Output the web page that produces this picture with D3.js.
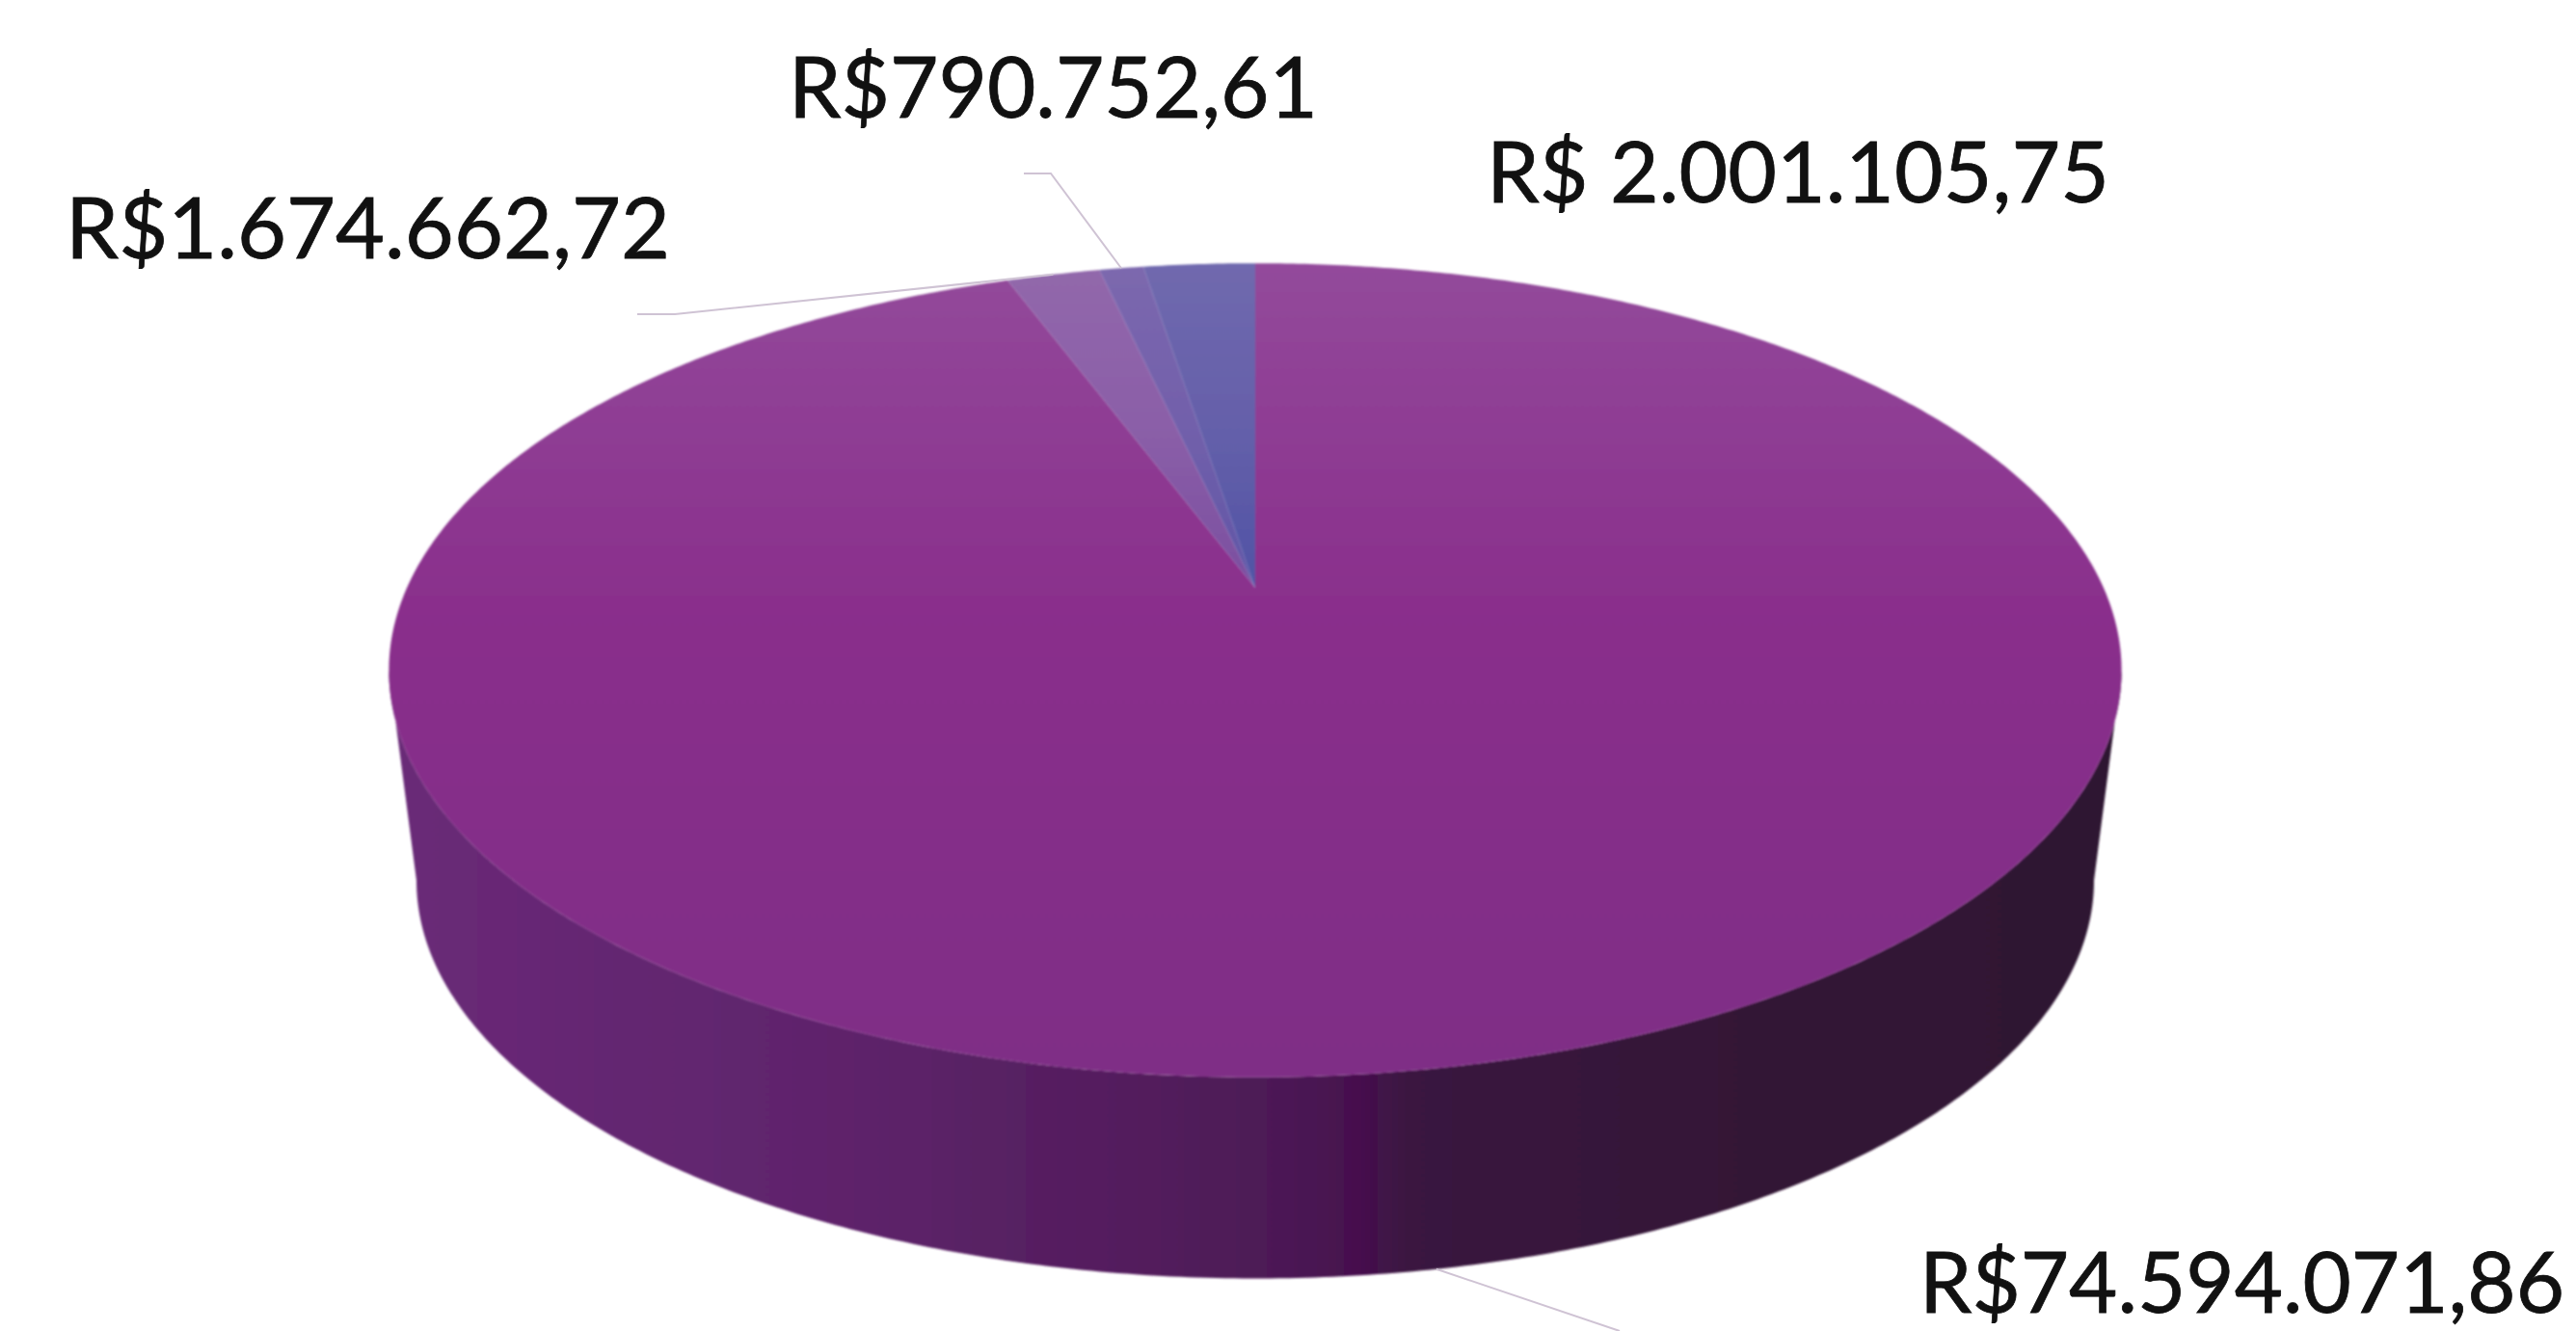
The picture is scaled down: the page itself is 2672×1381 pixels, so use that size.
<!DOCTYPE html>
<html>
<head>
<meta charset="utf-8">
<script src="https://cdnjs.cloudflare.com/ajax/libs/d3/7.8.5/d3.min.js"></script>
<style>
    html, body { margin: 0; background: #fff; overflow: hidden; }
    svg { display: block; }
    .label { font-family: Lato, "Open Sans", sans-serif; font-size: 87px; fill: #111; stroke: #111; stroke-width: 0.8; }
    .leader { fill: none; stroke: #cfc3d4; stroke-width: 2; }
</style>
</head>
<body>
<div id="chart"></div>
<script>
// values printed next to the slices, clockwise from 12 o'clock
const labels = ['R$74.594.071,86', 'R$1.674.662,72', 'R$790.752,61', 'R$ 2.001.105,75'];
const values = [74594071.86, 1674662.72, 790752.61, 2001105.75];

const topColors = [
    ['#934a9b', '#8a2f8c', '#7f2e86'],
    ['#9268ab', '#8b5fa8', '#7a4ea0'],
    ['#7c68ae', '#7260ab', '#5f55a6'],
    ['#7069ae', '#6560aa', '#5053a5']
];
const wallStops = [
    [0, '#6a2a78'], [0.25, '#5f246c'], [0.5, '#4e1b57'], [0.56, '#46104e'],
    [0.59, '#3a1540'], [0.8, '#331535'], [1, '#2e1733']
];

const width = 2672;
const height = 1381;

// label position, left/right edge and baseline, plus leader elbow
const labelLayout = [
    { x0: 1991, x1: 2660, y: 1362, leader: [[1680, 1381]], rim: 'bottom' },
    { x0: 68, x1: 695, y: 268, leader: [[661, 326], [700, 326]], rim: 'top' },
    { x0: 818, x1: 1367, y: 122, leader: [[1062, 180], [1090, 180]], rim: 'top' },
    { x0: 1542, x1: 2188, y: 210, leader: null }
];

// perspective disc: the apex sits above the middle of the visible ellipse
const cx = 1302;
const topDisc = { y0: 610, a: 405, b: 880 };
const bottomDisc = { y0: 830, a: 396, b: 852 };
const k = 0.2024;

function project(disc, angle) {
    const u = Math.sin(angle);
    const v = Math.cos(angle);
    const w = 1 + k * v;
    return [cx + disc.b * u / w, disc.y0 - disc.a * v / w];
}

const svg = d3.select('#chart').append('svg')
    .attr('width', width)
    .attr('height', height)
    .attr('viewBox', `0 0 ${width} ${height}`);

const defs = svg.append('defs');

defs.append('filter').attr('id', 'soft')
    .attr('x', '-5%').attr('y', '-5%').attr('width', '110%').attr('height', '110%')
    .append('feGaussianBlur').attr('stdDeviation', 1.2);

topColors.forEach((c, i) => {
    const gradient = defs.append('linearGradient')
        .attr('id', `slice-${i}`)
        .attr('gradientUnits', 'userSpaceOnUse')
        .attr('x1', 0).attr('x2', 0)
        .attr('y1', project(topDisc, 0)[1])
        .attr('y2', i === 0 ? project(topDisc, Math.PI)[1] : topDisc.y0);
    gradient.selectAll('stop').data(c).join('stop')
        .attr('offset', (d, j) => i === 0 ? [0, 0.42, 1][j] : [0, 0.5, 1][j])
        .attr('stop-color', d => d);
});

const wallGradient = defs.append('linearGradient')
    .attr('id', 'wall')
    .attr('gradientUnits', 'userSpaceOnUse')
    .attr('x1', cx - 899).attr('x2', cx + 899)
    .attr('y1', 0).attr('y2', 0);
wallGradient.selectAll('stop').data(wallStops).join('stop')
    .attr('offset', d => d[0])
    .attr('stop-color', d => d[1]);

const pie = d3.pie().sort(null)(values);
const line = d3.line();
const step = Math.PI / 360;

const g = svg.append('g').attr('filter', 'url(#soft)');

// side wall: front half of the rim, between the two silhouette tangents
const tangent = Math.acos(-k);
const frontAngles = d3.range(tangent, 2 * Math.PI - tangent, step).concat(2 * Math.PI - tangent);
const wallPoints = frontAngles.map(a => project(topDisc, a))
    .concat(frontAngles.slice().reverse().map(a => project(bottomDisc, a)));

g.append('path')
    .attr('d', line(wallPoints) + 'Z')
    .attr('fill', 'url(#wall)');

// top face
g.selectAll('path.slice')
    .data(pie)
    .join('path')
    .attr('class', 'slice')
    .attr('fill', (d, i) => `url(#slice-${i})`)
    .attr('d', d => {
        const rim = d3.range(d.startAngle, d.endAngle, step).concat(d.endAngle)
            .map(a => project(topDisc, a));
        return line([[cx, topDisc.y0], ...rim]) + 'Z';
    });

// leader lines run from the slice rim to the elbow near the label
svg.selectAll('path.leader')
    .data(pie.filter((d, i) => labelLayout[i].leader))
    .join('path')
    .attr('class', 'leader')
    .attr('d', d => {
        const layout = labelLayout[d.index];
        const mid = (d.startAngle + d.endAngle) / 2;
        const end = project(layout.rim === 'top' ? topDisc : bottomDisc, mid);
        return line([...layout.leader, end]);
    });

svg.selectAll('text.label')
    .data(labels)
    .join('text')
    .attr('class', 'label')
    .attr('x', (d, i) => labelLayout[i].x0)
    .attr('y', (d, i) => labelLayout[i].y)
    .attr('textLength', (d, i) => labelLayout[i].x1 - labelLayout[i].x0)
    .attr('lengthAdjust', 'spacingAndGlyphs')
    .text(d => d);
</script>
</body>
</html>
